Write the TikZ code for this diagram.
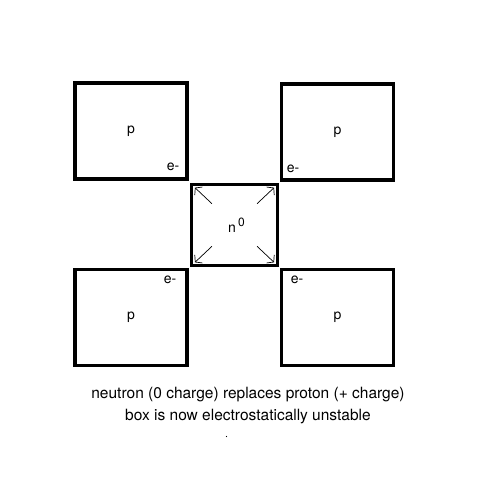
\documentclass[tikz,border=0pt]{standalone}
\usepackage{fontspec}
\setmainfont{TeX Gyre Heros}
\usetikzlibrary{positioning,arrows.meta,calc}
\tikzset{
  cell/.style={draw=black,line width=3.3pt,minimum width=112pt,minimum height=96pt,inner sep=0pt,font=\fontsize{14}{16}\selectfont},
  ncell/.style={draw=black,line width=3.3pt,minimum width=86pt,minimum height=81pt,inner sep=0pt,font=\fontsize{14}{16}\selectfont},
  elbl/.style={inner sep=0pt,font=\fontsize{14}{16}\selectfont},
  push/.style={-{Straight Barb[length=4.5pt,width=11pt]},line width=0.7pt,shorten <=31pt,shorten >=7pt},
  note/.style={align=center,inner sep=0pt,font=\fontsize{15.5}{22}\selectfont}}

\begin{document}
\begin{tikzpicture}[x=1pt,y=-1pt]
\useasboundingbox (0,0) rectangle (500,500);
% the four proton boxes and the neutron box between them
\node[cell] (tl) at (131,131) {p};
\node[cell] (tr) at (337.5,132) {p};
\node[cell] (bl) at (131,317.5) {p};
\node[cell] (br) at (337.5,317.5) {p};
\node[ncell] (n) at (234.5,225) {\hspace{4pt}n\,\raisebox{5.5pt}{\fontsize{12}{14}\selectfont 0}};
% electrons
\node[elbl] (etl) at (173,167) {e-};
\node[elbl] (etr) at (293,169) {e-};
\node[elbl] (ebl) at (170,280) {e-};
\node[elbl] (ebr) at (297,280) {e-};
% outward push
\foreach \c in {north west,north east,south west,south east}
  \draw[push] (n.center) -- (n.\c);
% caption
\node[note] (cap) at (248,406) {neutron (0 charge) replaces proton (+ charge)\\box is now electrostatically unstable};
\fill (226.5,436.5) circle (0.6);
\end{tikzpicture}
\end{document}
